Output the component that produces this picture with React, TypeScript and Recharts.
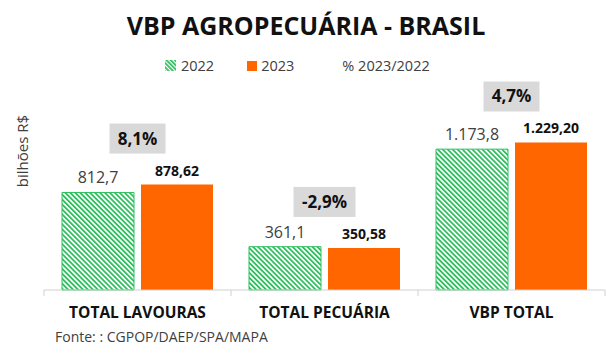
import React from "react";
import { BarChart, Bar, XAxis, YAxis, LabelList } from "recharts";

const categories = ["TOTAL LAVOURAS", "TOTAL PECUÁRIA", "VBP TOTAL"];
const values2022 = [812.7, 361.1, 1173.8];
const values2023 = [878.62, 350.58, 1229.2];
const pctChange = ["8,1%", "-2,9%", "4,7%"];

const data = categories.map((name, i) => ({
  name,
  v2022: values2022[i],
  v2023: values2023[i],
  pct: pctChange[i],
}));

const FONT = "'Open Sans', 'Noto Sans', sans-serif";
const GREEN = "#2fbf5f";
const ORANGE = "#ff6600";

const fmt = (v: number, d: number) =>
  v.toLocaleString("pt-BR", { minimumFractionDigits: d, maximumFractionDigits: d });

const CategoryTick = (props: any) => {
  const { x, y, payload, index } = props;
  const half = 93.5;
  return (
    <g>
      <line x1={x - half} y1={y - 8} x2={x - half} y2={y - 2} stroke="#d0d0d0" />
      {index === categories.length - 1 && (
        <line x1={x + half} y1={y - 8} x2={x + half} y2={y - 2} stroke="#d0d0d0" />
      )}
      <text x={x} y={y + 20} textAnchor="middle" fontFamily={FONT} fontWeight={700} fontSize={15.5} fill="#111">
        {payload.value}
      </text>
    </g>
  );
};

const PctBox = (props: any) => {
  const { x, y, value } = props;
  const cx = x - 3.5;
  const cy = y - 46;
  const w = value.length > 4 ? 62 : 56;
  return (
    <g>
      <rect x={cx - w / 2} y={cy - 15} width={w} height={30} fill="#d9d9d9" />
      <text x={cx} y={cy + 6} textAnchor="middle" fontFamily={FONT} fontWeight={700} fontSize={17} fill="#111">
        {value}
      </text>
    </g>
  );
};

export default function App() {
  return (
    <div style={{ position: "absolute", left: 0, top: 0, width: 612, height: 351, background: "#fff", fontFamily: FONT }}>
      <div style={{ position: "absolute", top: 8, left: 0, width: 612, textAlign: "center", fontWeight: 700, fontSize: 25, color: "#111" }}>
        VBP AGROPECUÁRIA - BRASIL
      </div>
      <div style={{ position: "absolute", top: 56, left: 165, display: "flex", alignItems: "center", fontSize: 14.5, color: "#404040" }}>
        <svg width={11} height={11} style={{ marginRight: 5 }}>
          <defs>
            <pattern id="hatchLegend" width={3} height={3} patternUnits="userSpaceOnUse" patternTransform="rotate(-45)">
              <rect width={3} height={3} fill="#fff" />
              <rect width={1.8} height={3} fill={GREEN} />
            </pattern>
          </defs>
          <rect width={11} height={11} fill="url(#hatchLegend)" />
        </svg>
        <span>2022</span>
        <span style={{ display: "inline-block", width: 10, height: 10, background: ORANGE, marginLeft: 33, marginRight: 4 }} />
        <span>2023</span>
        <span style={{ marginLeft: 48 }}>% 2023/2022</span>
      </div>
      <div style={{ position: "absolute", left: 22, top: 151, transform: "translate(-50%, -50%) rotate(-90deg)", fontSize: 15, color: "#404040", whiteSpace: "nowrap" }}>
        bilhões R$
      </div>
      <BarChart
        width={612}
        height={351}
        data={data}
        margin={{ top: 122, right: 7, bottom: 31, left: 44 }}
        barCategoryGap={18}
        barGap={7}
        style={{ position: "absolute", left: 0, top: 0 }}
      >
        <defs>
          <pattern id="hatch" width={3.5} height={3.5} patternUnits="userSpaceOnUse" patternTransform="rotate(-45)">
            <rect width={3.5} height={3.5} fill="#fff" />
            <rect width={1.8} height={3.5} fill={GREEN} />
          </pattern>
        </defs>
        <XAxis dataKey="name" axisLine={{ stroke: "#d0d0d0" }} tickLine={false} tick={<CategoryTick />} interval={0} />
        <YAxis hide domain={[0, 1400]} />
        <Bar dataKey="v2022" fill="url(#hatch)" stroke={GREEN} strokeWidth={1} barSize={72} isAnimationActive={false}>
          <LabelList
            dataKey="v2022"
            position="top"
            offset={9}
            formatter={(v: any) => fmt(Number(v), 1)}
            style={{ fontFamily: FONT, fontSize: 16, fill: "#404040" }}
          />
        </Bar>
        <Bar dataKey="v2023" fill={ORANGE} barSize={72} isAnimationActive={false}>
          <LabelList
            dataKey="v2023"
            position="top"
            offset={9}
            formatter={(v: any) => fmt(Number(v), 2)}
            style={{ fontFamily: FONT, fontSize: 14, fontWeight: 700, fill: "#111" }}
          />
          <LabelList dataKey="pct" content={<PctBox />} />
        </Bar>
      </BarChart>
      <div style={{ position: "absolute", left: 55, top: 327, fontSize: 14, color: "#404040" }}>
        Fonte: : CGPOP/DAEP/SPA/MAPA
      </div>
    </div>
  );
}
